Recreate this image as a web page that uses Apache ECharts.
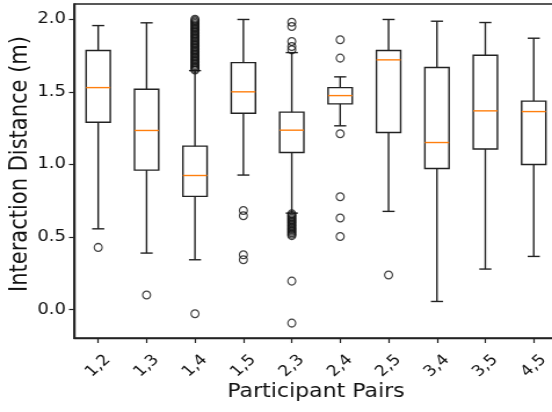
<!DOCTYPE html>
<html>
<head>
<meta charset="utf-8">
<script src="https://cdn.jsdelivr.net/npm/echarts@6/dist/echarts.min.js"></script>
<style>
  html, body { margin: 0; padding: 0; background: #fff; overflow: hidden; }
  /* the figure is drawn a little narrower and widened to the page, giving the wide-set lettering */
  #chart { width: 476px; height: 412px; transform: scaleX(1.1597); transform-origin: 0 0; }
</style>
</head>
<body>
<div id="chart"></div>
<script>
// Participant pairs along the x axis
const categories = ['1,2', '1,3', '1,4', '1,5', '2,3', '2,4', '2,5', '3,4', '3,5', '4,5'];

// Box statistics per pair (metres)
const whiskerLow  = [0.557, 0.390, 0.344, 0.927, 0.665, 1.266, 0.677, 0.057, 0.280, 0.367];
const quartile1   = [1.291, 0.961, 0.780, 1.353, 1.082, 1.417, 1.220, 0.972, 1.106, 1.000];
const medians     = [1.529, 1.234, 0.924, 1.500, 1.236, 1.474, 1.720, 1.151, 1.369, 1.364];
const quartile3   = [1.784, 1.518, 1.126, 1.701, 1.360, 1.529, 1.784, 1.667, 1.752, 1.436];
const whiskerHigh = [1.956, 1.975, 1.646, 1.998, 1.770, 1.603, 1.998, 1.986, 1.977, 1.869];

// Outlying samples per pair
const outliers = [
  [0.429],
  [0.101],
  [-0.028,
   1.65, 1.66, 1.67, 1.68, 1.69, 1.70, 1.71, 1.72, 1.73, 1.74, 1.75, 1.76,
   1.77, 1.78, 1.79, 1.80, 1.81, 1.82, 1.83, 1.84, 1.85, 1.86, 1.87, 1.88,
   1.89, 1.90, 1.91, 1.92, 1.93, 1.94, 1.95, 1.96, 1.97, 1.98, 1.99, 2.00],
  [0.683, 0.647, 0.378, 0.344],
  [1.979, 1.950, 1.846, 1.812, 1.789,
   0.660, 0.650, 0.640, 0.630, 0.620, 0.610, 0.600, 0.590, 0.580, 0.570,
   0.560, 0.550, 0.540, 0.530, 0.520, 0.510,
   0.197, -0.092],
  [1.858, 1.732, 1.211, 0.778, 0.631, 0.504],
  [0.239],
  [],
  [],
  []
];

// Y tick values
const yTicks = [0.0, 0.5, 1.0, 1.5, 2.0];

const boxData = categories.map((c, i) =>
  [i, whiskerLow[i], quartile1[i], medians[i], quartile3[i], whiskerHigh[i]]);

const outlierData = [];
outliers.forEach((vals, i) => vals.forEach(v => outlierData.push([categories[i], v])));

const lineColor = '#222';
const textColor = '#111';
const fontFamily = 'DejaVu Sans';

// Matplotlib-style box: box from Q1 to Q3, orange median, whiskers with half-width caps
function renderBox(params, api) {
  const idx = api.value(0);
  const pLow = api.coord([idx, api.value(1)]);
  const pQ1 = api.coord([idx, api.value(2)]);
  const pMed = api.coord([idx, api.value(3)]);
  const pQ3 = api.coord([idx, api.value(4)]);
  const pHigh = api.coord([idx, api.value(5)]);
  const band = api.size([1, 0])[0];
  const half = band * 0.25;
  const cap = band * 0.125;
  const cx = pLow[0];
  const st = { stroke: lineColor, lineWidth: 1.4, fill: null };
  const line = (x1, y1, x2, y2, style) => ({
    type: 'line', shape: { x1, y1, x2, y2 }, style: style || st
  });
  return {
    type: 'group',
    children: [
      line(cx, pQ1[1], cx, pLow[1]),
      line(cx, pQ3[1], cx, pHigh[1]),
      line(cx - cap, pLow[1], cx + cap, pLow[1]),
      line(cx - cap, pHigh[1], cx + cap, pHigh[1]),
      {
        type: 'rect',
        shape: { x: cx - half, y: pQ3[1], width: half * 2, height: pQ1[1] - pQ3[1] },
        style: { stroke: lineColor, lineWidth: 1.4, fill: 'rgba(0,0,0,0)' }
      },
      line(cx - half, pMed[1], cx + half, pMed[1],
           { stroke: '#ff7f0e', lineWidth: 1.4 })
    ]
  };
}

const chart = echarts.init(document.getElementById('chart'), null, { renderer: 'canvas' });
chart.setOption({
  animation: false,
  backgroundColor: '#fff',
  textStyle: { fontFamily },
  grid: {
    left: 63.8, top: 4, width: 417.3, height: 334,
    containLabel: false,
    outerBoundsMode: 'none',
    show: true, borderColor: lineColor, borderWidth: 1.4, backgroundColor: 'transparent'
  },
  xAxis: {
    type: 'category',
    data: categories,
    boundaryGap: true,
    name: 'Participant Pairs',
    nameLocation: 'middle',
    nameGap: 45,
    nameMoveOverlap: false,
    nameTextStyle: { fontSize: 19, color: textColor, fontFamily },
    axisLine: { show: true, onZero: false, lineStyle: { color: lineColor, width: 1.4 } },
    axisTick: { show: true, alignWithLabel: true, length: 5, lineStyle: { color: lineColor, width: 1.2 } },
    axisLabel: {
      rotate: 45, align: 'center', verticalAlign: 'middle', margin: 28,
      fontSize: 15, color: textColor, fontFamily
    },
    splitLine: { show: false }
  },
  yAxis: {
    type: 'value',
    min: -0.1945,
    max: 2.1045,
    name: 'Interaction Distance (m)',
    nameLocation: 'middle',
    nameGap: 36,
    nameMoveOverlap: false,
    nameTextStyle: { fontSize: 21, color: textColor, fontFamily, padding: [0, 0, 0, 14] },
    axisLine: { show: true, lineStyle: { color: lineColor, width: 1.4 } },
    axisTick: { show: true, length: 4.3, customValues: yTicks, lineStyle: { color: lineColor, width: 1.2 } },
    axisLabel: {
      customValues: yTicks, margin: 7, fontSize: 15.5, color: textColor, fontFamily,
      formatter: v => Number(v).toFixed(1)
    },
    splitLine: { show: false }
  },
  series: [
    {
      type: 'custom',
      renderItem: renderBox,
      data: boxData,
      encode: { x: 0, y: [1, 2, 3, 4, 5] },
      z: 2
    },
    {
      type: 'scatter',
      data: outlierData,
      symbol: 'circle',
      symbolSize: [6.8, 7.8],
      itemStyle: { color: 'rgba(0,0,0,0)', borderColor: '#111', borderWidth: 1.2 },
      z: 3
    }
  ]
});
</script>
</body>
</html>
